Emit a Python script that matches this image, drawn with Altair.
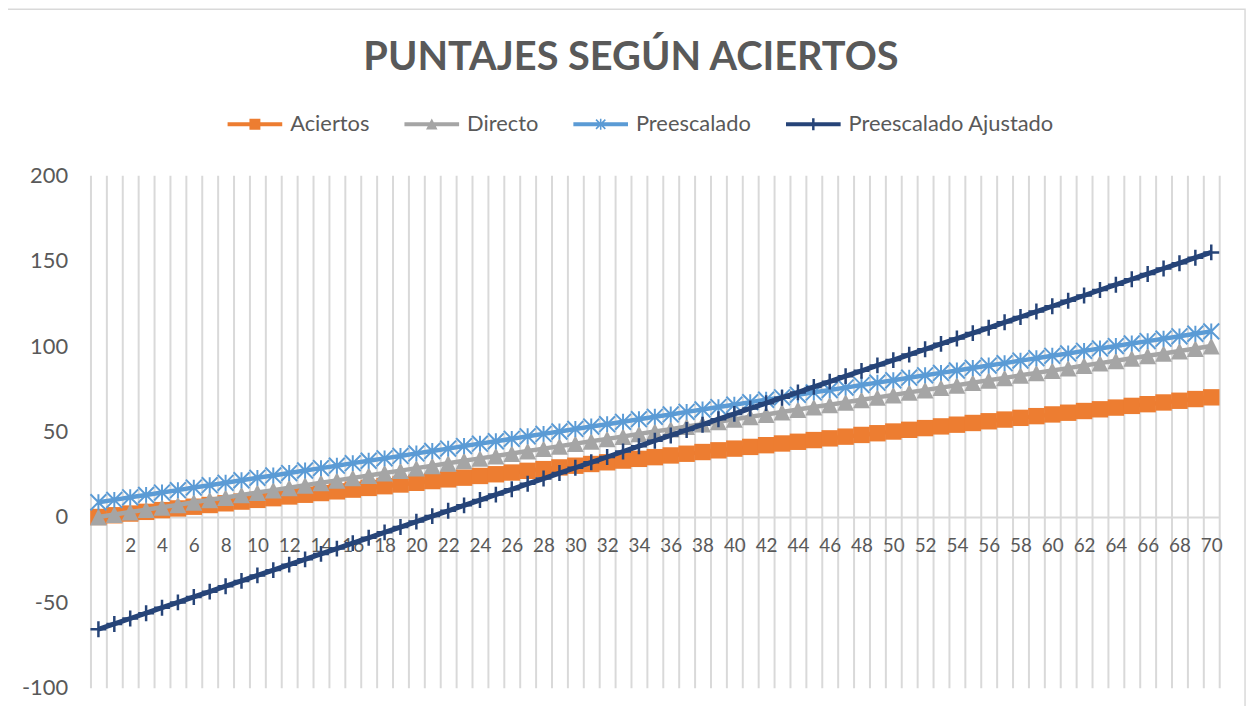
import math
import altair as alt
import pandas as pd

# ---------------- data ----------------
aciertos_x = [0, 1, 2, 3, 4, 5, 6, 7, 8, 9, 10, 11, 12, 13, 14, 15, 16, 17, 18, 19, 20,
              21, 22, 23, 24, 25, 26, 27, 28, 29, 30, 31, 32, 33, 34, 35, 36, 37, 38, 39, 40,
              41, 42, 43, 44, 45, 46, 47, 48, 49, 50, 51, 52, 53, 54, 55, 56, 57, 58, 59, 60,
              61, 62, 63, 64, 65, 66, 67, 68, 69, 70]

aciertos = [0, 1, 2, 3, 4, 5, 6, 7, 8, 9, 10, 11, 12, 13, 14, 15, 16, 17, 18, 19, 20,
            21, 22, 23, 24, 25, 26, 27, 28, 29, 30, 31, 32, 33, 34, 35, 36, 37, 38, 39, 40,
            41, 42, 43, 44, 45, 46, 47, 48, 49, 50, 51, 52, 53, 54, 55, 56, 57, 58, 59, 60,
            61, 62, 63, 64, 65, 66, 67, 68, 69, 70]

directo = [0, 1.4, 2.9, 4.3, 5.7, 7.1, 8.6, 10, 11.4, 12.9, 14.3, 15.7, 17.1, 18.6, 20,
           21.4, 22.9, 24.3, 25.7, 27.1, 28.6, 30, 31.4, 32.9, 34.3, 35.7, 37.1, 38.6, 40,
           41.4, 42.9, 44.3, 45.7, 47.1, 48.6, 50, 51.4, 52.9, 54.3, 55.7, 57.1, 58.6, 60,
           61.4, 62.9, 64.3, 65.7, 67.1, 68.6, 70, 71.4, 72.9, 74.3, 75.7, 77.1, 78.6, 80,
           81.4, 82.9, 84.3, 85.7, 87.1, 88.6, 90, 91.4, 92.9, 94.3, 95.7, 97.1, 98.6, 100]

preescalado = [8.6, 10, 11.5, 12.9, 14.3, 15.7, 17.2, 18.6, 20, 21.5, 22.9, 24.3, 25.7,
               27.2, 28.6, 30, 31.5, 32.9, 34.3, 35.7, 37.2, 38.6, 40, 41.5, 42.9, 44.3,
               45.7, 47.2, 48.6, 50, 51.5, 52.9, 54.3, 55.7, 57.2, 58.6, 60, 61.5, 62.9,
               64.3, 65.7, 67.2, 68.6, 70, 71.5, 72.9, 74.3, 75.7, 77.2, 78.6, 80, 81.5,
               82.9, 84.3, 85.7, 87.2, 88.6, 90, 91.5, 92.9, 94.3, 95.7, 97.2, 98.6, 100,
               101.5, 102.9, 104.3, 105.7, 107.2, 108.6]

ajustado = [-65.7, -62.6, -59.4, -56.3, -53.1, -50, -46.8, -43.7, -40.5, -37.4, -34.2,
            -31.1, -27.9, -24.8, -21.6, -18.5, -15.3, -12.2, -9, -5.9, -2.7, 0.5, 3.6,
            6.8, 9.9, 13.1, 16.2, 19.4, 22.5, 25.7, 28.8, 32, 35.1, 38.3, 41.4, 44.6,
            47.7, 50.9, 54, 57.2, 60.3, 63.5, 66.6, 69.8, 72.9, 76.1, 79.2, 82.4, 85.5,
            88.7, 91.8, 95, 98.1, 101.3, 104.4, 107.6, 110.7, 113.9, 117, 120.2, 123.3,
            126.5, 129.6, 132.8, 135.9, 139.1, 142.2, 145.4, 148.5, 151.7, 154.8]

series_names = ["Aciertos", "Directo", "Preescalado", "Preescalado Ajustado"]
series_values = [aciertos, directo, preescalado, ajustado]

x_tick_labels = [2, 4, 6, 8, 10, 12, 14, 16, 18, 20, 22, 24, 26, 28, 30, 32, 34, 36,
                 38, 40, 42, 44, 46, 48, 50, 52, 54, 56, 58, 60, 62, 64, 66, 68, 70]
y_ticks = [-100, -50, 0, 50, 100, 150, 200]

title_text = "PUNTAJES SEGÚN ACIERTOS"

# ---------------- styling ----------------
FONT = "Lato"
TEXT_COLOR = "#595959"
GRID_COLOR = "#D9D9D9"
colors = ["#ED7D31", "#A5A5A5", "#5B9BD5", "#264478"]

W, H = 1136, 516

rows = []
for name, vals in zip(series_names, series_values):
    for xv, yv in zip(aciertos_x, vals):
        rows.append({"x": xv, "serie": name, "v": yv})
df = pd.DataFrame(rows)

grid_values = [i - 0.5 for i in range(len(aciertos_x) + 1)]
label_arr = "[" + ",".join(str(v) for v in x_tick_labels) + "]"
label_expr = (f"indexof({label_arr}, datum.value + 0.5) >= 0 ? "
              "format(datum.value + 0.5, 'd') : ''")

x_enc = alt.X(
    "x:Q",
    scale=alt.Scale(domain=[-0.5, 70.5], nice=False, zero=False),
    axis=alt.Axis(
        values=grid_values, grid=True, gridColor=GRID_COLOR, gridWidth=2,
        domain=True, domainColor=GRID_COLOR, domainWidth=2,
        ticks=False, labelExpr=label_expr, labelOffset=8, labelPadding=20,
        labelFont=FONT, labelFontSize=19, labelColor=TEXT_COLOR,
        labelOverlap=False, labelFlush=False, offset=-172, title=None,
    ),
)
y_enc = alt.Y(
    "v:Q",
    scale=alt.Scale(domain=[-100, 200], nice=False),
    axis=alt.Axis(
        values=y_ticks, grid=False, domain=False, ticks=False, labelPadding=23,
        labelExpr="'' + datum.value",
        labelFont=FONT, labelFontSize=22, labelColor=TEXT_COLOR, title=None,
    ),
)

base = alt.Chart(df)

# data markers
m_square = "M-1,-1L1,-1L1,1L-1,1Z"
m_triangle = "M0,-1L1,1L-1,1Z"
m_star = "M-1,-1L1,1M-1,1L1,-1M0,-1L0,1"
m_plus = "M0,-1L0,1M-1,0L1,0"

marker_specs = [
    dict(shape=m_square, size=272, filled=True),
    dict(shape=m_triangle, size=289, filled=True),
    dict(shape=m_star, size=256, filled=False, strokeWidth=2),
    dict(shape=m_plus, size=256, filled=False, strokeWidth=2.5),
]
line_widths = [4.5, 4.5, 4.5, 5]

layers = []
# chart frame (decoration)
frame = alt.Chart(alt.Data(values=[{"a": 1}])).mark_rect(
    fill="transparent", stroke=GRID_COLOR, strokeWidth=1.5
).encode(x=alt.value(-84), x2=alt.value(1162), y=alt.value(-167), y2=alt.value(540))
layers.append(frame)

for name, col, ms, lw in zip(series_names, colors, marker_specs, line_widths):
    sub = base.transform_filter(alt.datum.serie == name)
    layers.append(sub.mark_line(color=col, strokeWidth=lw).encode(x=x_enc, y=y_enc))
    pt_kwargs = dict(ms)
    if pt_kwargs.get("filled"):
        pt_kwargs["fill"] = col
        pt_kwargs["stroke"] = col
        pt_kwargs["strokeWidth"] = 0
    else:
        pt_kwargs["stroke"] = col
    pt_kwargs["opacity"] = 1
    layers.append(sub.mark_point(**pt_kwargs).encode(x=x_enc, y=y_enc))


# legend symbols: line + marker as filled paths
def poly(pts):
    area = sum(pts[i][0] * pts[(i + 1) % len(pts)][1] - pts[(i + 1) % len(pts)][0] * pts[i][1]
               for i in range(len(pts)))
    if area < 0:
        pts = pts[::-1]
    return "M" + "L".join(f"{px:.3f},{py:.3f}" for px, py in pts) + "Z"


def seg(x1, y1, x2, y2, hw):
    dx, dy = x2 - x1, y2 - y1
    L = math.hypot(dx, dy)
    nx, ny = -dy / L * hw, dx / L * hw
    return poly([(x1 + nx, y1 + ny), (x2 + nx, y2 + ny), (x2 - nx, y2 - ny), (x1 - nx, y1 - ny)])


leg_line = seg(-1, 0, 1, 0, 0.075)
leg_shapes = [
    leg_line + poly([(-0.2, -0.2), (0.2, -0.2), (0.2, 0.2), (-0.2, 0.2)]),
    leg_line + poly([(0, -0.21), (0.21, 0.19), (-0.21, 0.19)]),
    leg_line + seg(-0.17, -0.17, 0.17, 0.17, 0.028) + seg(-0.17, 0.17, 0.17, -0.17, 0.028)
    + seg(0, -0.2, 0, 0.2, 0.028),
    leg_line + seg(0, -0.22, 0, 0.22, 0.045),
]

legend = alt.Legend(
    title=None, orient="none", legendX=138, legendY=-79, direction="horizontal",
    symbolSize=3025, symbolStrokeWidth=0, labelFont=FONT, labelFontSize=22,
    labelColor=TEXT_COLOR, labelOffset=8, columnPadding=35, labelLimit=400,
)
leg_layer = alt.Chart(alt.Data(values=[{"serie": s, "v": None} for s in series_names])).mark_point(
    filled=True, opacity=1
).encode(
    y=y_enc,
    color=alt.Color("serie:N", scale=alt.Scale(domain=series_names, range=colors), legend=legend),
    shape=alt.Shape("serie:N", scale=alt.Scale(domain=series_names, range=leg_shapes), legend=legend),
)
layers.append(leg_layer)

chart = alt.layer(*layers).properties(
    width=W, height=H,
    title=alt.TitleParams(
        title_text, font=FONT, fontSize=40, fontWeight="bold", color=TEXT_COLOR,
        anchor="middle", frame="group", dx=-24, offset=-102, baseline="alphabetic",
    ),
    padding={"left": 83, "top": 166, "right": 33, "bottom": 16},
    autosize=alt.AutoSizeParams(type="none"),
).configure_view(stroke=None)

chart.save("out.html", embed_options={"renderer": "svg", "actions": False})
